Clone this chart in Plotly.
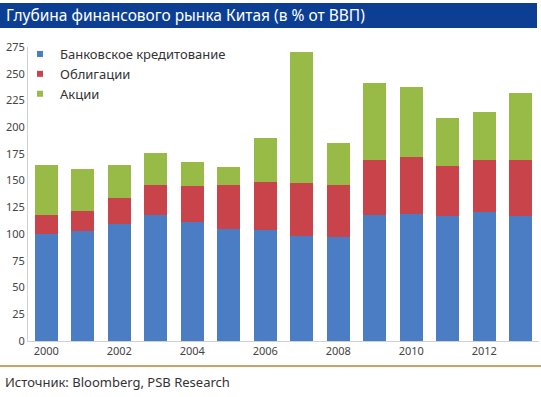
import plotly.graph_objects as go

years = [2000, 2001, 2002, 2003, 2004, 2005, 2006, 2007, 2008, 2009, 2010, 2011, 2012, 2013]
bank = [100, 103, 109, 118, 111, 105, 104, 98, 97, 118, 119, 117, 121, 117]
bonds = [18, 19, 25, 28, 34, 41, 45, 50, 49, 51, 53, 47, 48, 52]
stocks = [47, 39, 31, 30, 22, 17, 41, 122, 39, 72, 66, 45, 45, 63]
xticks = [2000, 2002, 2004, 2006, 2008, 2010, 2012]
names = ["Банковское кредитование", "Облигации", "Акции"]
colors = ["#4a7dc4", "#c9444a", "#98bb48"]

fig = go.Figure()
for vals, nm, c in zip([bank, bonds, stocks], names, colors):
    fig.add_trace(go.Bar(x=years, y=vals, name=nm, legendgroup=nm, showlegend=False,
                         marker=dict(color=c, line=dict(width=0))))
for nm, c in zip(names, colors):
    fig.add_trace(go.Scatter(x=[None], y=[None], mode="markers", name=nm, legendgroup=nm,
                             marker=dict(symbol="square", size=6, color=c)))

W, H = 541, 397
ml, mr, mt, mb = 28, 2, 47, 56
pw, ph = W - ml - mr, H - mt - mb

def px(x):
    return (x - ml) / pw

def py(y):
    return (H - mb - y) / ph

fig.update_layout(
    width=W, height=H,
    margin=dict(l=ml, r=mr, t=mt, b=mb),
    barmode="stack", bargap=0.37,
    plot_bgcolor="white", paper_bgcolor="white",
    font=dict(family="Noto Sans, Open Sans, sans-serif", color="#444"),
    showlegend=True,
    legend=dict(x=px(20), y=py(39), xanchor="left", yanchor="top",
                traceorder="normal", font=dict(size=13, color="#333"),
                bgcolor="rgba(0,0,0,0)", itemwidth=30, tracegroupgap=0),
    xaxis=dict(tickmode="array", tickvals=xticks, ticktext=[str(t) for t in xticks],
               range=[1999.5, 2013.5], showgrid=False, showline=True, linecolor="#d0d0d0",
               tickfont=dict(size=11, color="#444"), ticks=""),
    yaxis=dict(range=[0, 275], tickmode="array", tickvals=list(range(0, 276, 25)),
               showgrid=False, showline=True, linecolor="#d0d0d0",
               tickfont=dict(size=11, color="#444"), ticks="", zeroline=False),
    shapes=[
        dict(type="rect", xref="paper", yref="paper", x0=px(0), x1=px(537), y0=py(28), y1=py(3),
             fillcolor="#0c3f94", line=dict(width=0), layer="below"),
        dict(type="line", xref="paper", yref="paper", x0=px(0), x1=px(541), y0=py(366), y1=py(366),
             line=dict(color="#c9a46a", width=2)),
    ],
    annotations=[
        dict(text="Глубина финансового рынка Китая (в % от ВВП)", xref="paper", yref="paper",
             x=px(4), y=py(15.5), xanchor="left", yanchor="middle", showarrow=False,
             font=dict(size=15.5, color="white", family="Noto Sans, sans-serif")),
        dict(text="Источник: Bloomberg, PSB Research", xref="paper", yref="paper",
             x=px(3), y=py(382), xanchor="left", yanchor="middle", showarrow=False,
             font=dict(size=13, color="#333")),
    ],
)

fig.write_html("out.html", config={"displayModeBar": False},
               post_script="document.body.style.margin='0';document.body.style.overflow='hidden';")
